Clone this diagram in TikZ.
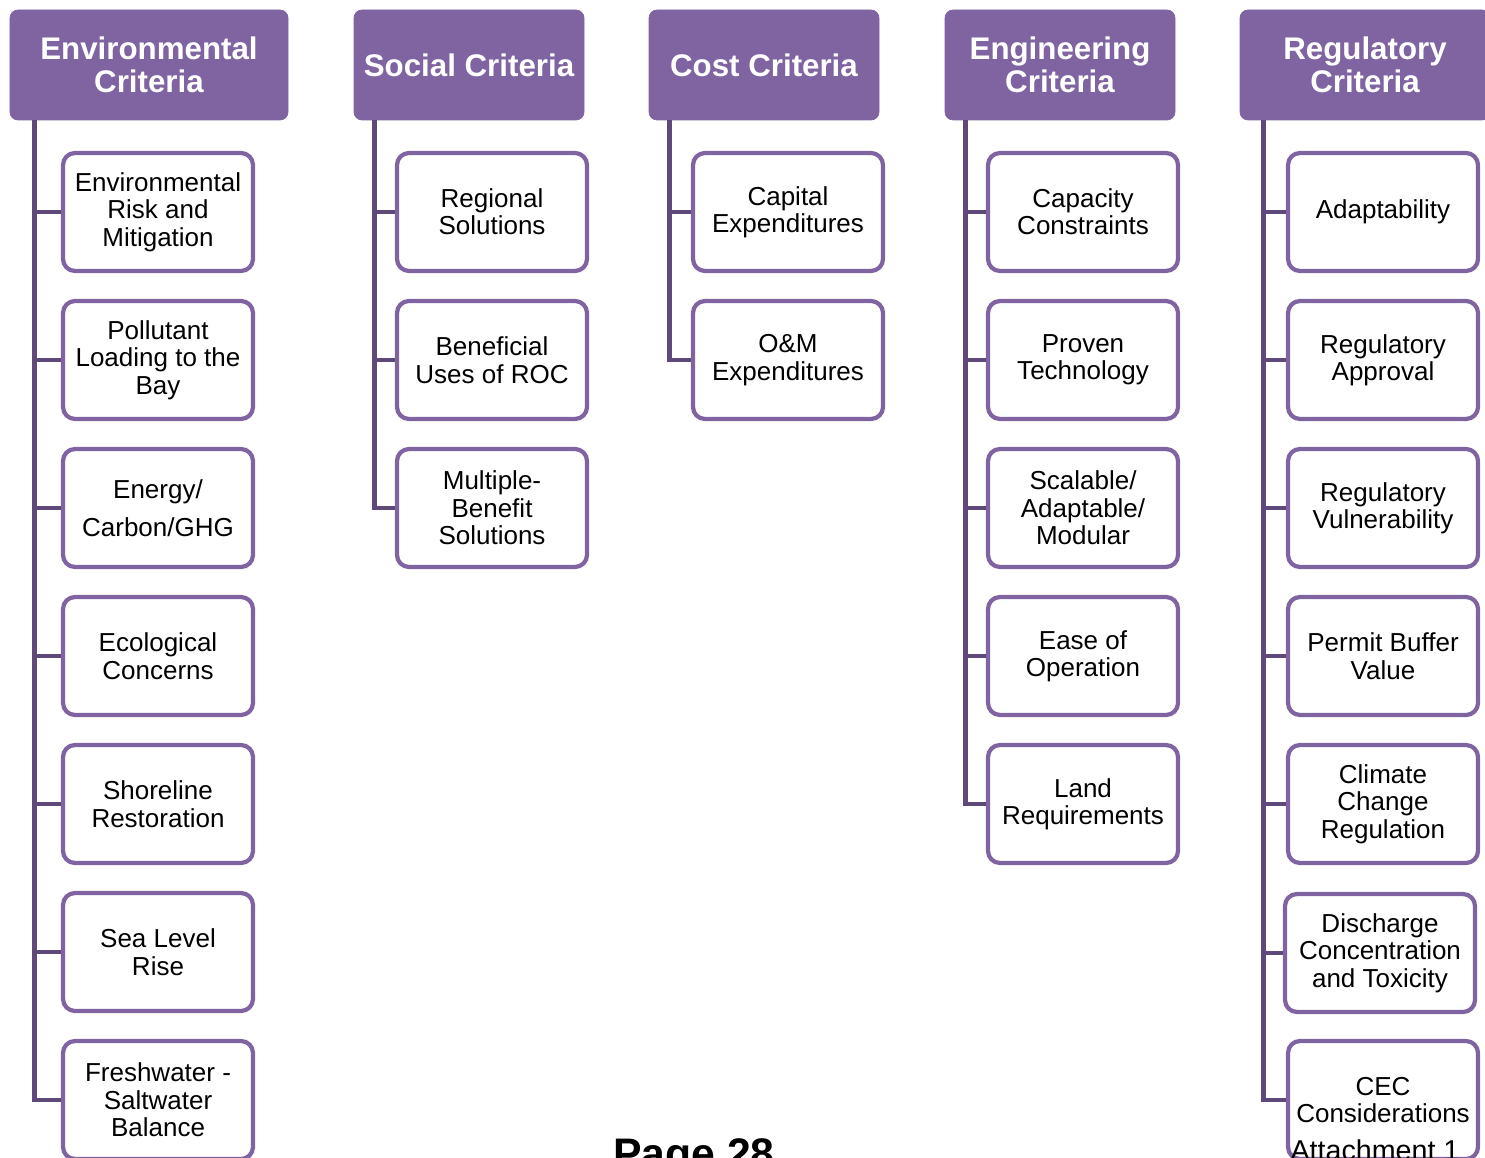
\documentclass[tikz,border=0pt]{standalone}
\usepackage{fontspec}
\setmainfont{Liberation Sans}
\usepackage{tikz}
\usetikzlibrary{positioning}
\definecolor{hdrpurple}{HTML}{8064A2}
\definecolor{trunkpurple}{HTML}{5F497A}
\tikzstyle{header} = [draw=hdrpurple, fill=hdrpurple, rounded corners=0.16cm, minimum height=2.2cm, text=white, align=center, font=\bfseries\fontsize{17.8}{18.8}\selectfont, inner sep=2pt]
\tikzstyle{item} = [draw=hdrpurple, line width=2.4pt, fill=white, rounded corners=0.24cm, minimum width=3.8cm, minimum height=2.36cm, align=center, font=\fontsize{14.8}{15.6}\selectfont, inner sep=2pt]
\tikzstyle{trunk} = [draw=trunkpurple, line width=2.8pt]

\begin{document}
\begin{tikzpicture}
    \clip (0,0) rectangle (29.7,-23.16);

    % headers
    \node [header, minimum width=5.56cm] (envh) at (2.98,-1.30) {Environmental\\Criteria};
    \node [header, minimum width=4.6cm] (soch) at (9.38,-1.30) {Social Criteria};
    \node [header, minimum width=4.6cm] (costh) at (15.28,-1.30) {Cost Criteria};
    \node [header, minimum width=4.6cm] (engh) at (21.2,-1.30) {Engineering\\Criteria};
    \node [header, minimum width=5.0cm] (regh) at (27.3,-1.30) {Regulatory\\Criteria};

    % environmental
    \node [item] (env1) at (3.16,-4.24) {Environmental\\Risk and\\Mitigation};
    \node [item] (env2) at (3.16,-7.20) {Pollutant\\Loading to the\\Bay};
    \node [item] (env3) at (3.16,-10.16) {Energy/\\[0.2cm]Carbon/GHG};
    \node [item] (env4) at (3.16,-13.12) {Ecological\\Concerns};
    \node [item] (env5) at (3.16,-16.08) {Shoreline\\Restoration};
    \node [item] (env6) at (3.16,-19.04) {Sea Level\\Rise};
    \node [item] (env7) at (3.16,-22.00) {Freshwater -\\Saltwater\\Balance};

    % social
    \node [item] (soc1) at (9.84,-4.24) {Regional\\Solutions};
    \node [item] (soc2) at (9.84,-7.20) {Beneficial\\Uses of ROC};
    \node [item] (soc3) at (9.84,-10.16) {Multiple-\\Benefit\\Solutions};

    % cost
    \node [item] (cost1) at (15.76,-4.24) {Capital\\Expenditures};
    \node [item] (cost2) at (15.76,-7.20) {O\&M\\Expenditures};

    % engineering
    \node [item] (eng1) at (21.66,-4.24) {Capacity\\Constraints};
    \node [item] (eng2) at (21.66,-7.20) {Proven\\Technology};
    \node [item] (eng3) at (21.66,-10.16) {Scalable/\\Adaptable/\\Modular};
    \node [item] (eng4) at (21.66,-13.12) {Ease of\\Operation};
    \node [item] (eng5) at (21.66,-16.08) {Land\\Requirements};

    % regulatory
    \node [item] (reg1) at (27.66,-4.24) {Adaptability};
    \node [item] (reg2) at (27.66,-7.20) {Regulatory\\Approval};
    \node [item] (reg3) at (27.66,-10.16) {Regulatory\\Vulnerability};
    \node [item] (reg4) at (27.66,-13.12) {Permit Buffer\\Value};
    \node [item] (reg5) at (27.66,-16.08) {Climate\\Change\\Regulation};
    \node [item] (reg6) at (27.60,-19.06) {Discharge\\Concentration\\and Toxicity};
    \node [item] (reg7) at (27.66,-22.00) {CEC\\Considerations};

    % connectors
    \draw [trunk] ([xshift=0.5cm]envh.south west) |- (env7.west);
    \draw [trunk] ([xshift=0.5cm]envh.south west) |- (env1.west);
    \draw [trunk] ([xshift=0.5cm]envh.south west) |- (env2.west);
    \draw [trunk] ([xshift=0.5cm]envh.south west) |- (env3.west);
    \draw [trunk] ([xshift=0.5cm]envh.south west) |- (env4.west);
    \draw [trunk] ([xshift=0.5cm]envh.south west) |- (env5.west);
    \draw [trunk] ([xshift=0.5cm]envh.south west) |- (env6.west);

    \draw [trunk] ([xshift=0.42cm]soch.south west) |- (soc3.west);
    \draw [trunk] ([xshift=0.42cm]soch.south west) |- (soc1.west);
    \draw [trunk] ([xshift=0.42cm]soch.south west) |- (soc2.west);

    \draw [trunk] ([xshift=0.42cm]costh.south west) |- (cost2.west);
    \draw [trunk] ([xshift=0.42cm]costh.south west) |- (cost1.west);

    \draw [trunk] ([xshift=0.42cm]engh.south west) |- (eng5.west);
    \draw [trunk] ([xshift=0.42cm]engh.south west) |- (eng1.west);
    \draw [trunk] ([xshift=0.42cm]engh.south west) |- (eng2.west);
    \draw [trunk] ([xshift=0.42cm]engh.south west) |- (eng3.west);
    \draw [trunk] ([xshift=0.42cm]engh.south west) |- (eng4.west);

    \draw [trunk] ([xshift=0.48cm]regh.south west) |- (reg7.west);
    \draw [trunk] ([xshift=0.48cm]regh.south west) |- (reg1.west);
    \draw [trunk] ([xshift=0.48cm]regh.south west) |- (reg2.west);
    \draw [trunk] ([xshift=0.48cm]regh.south west) |- (reg3.west);
    \draw [trunk] ([xshift=0.48cm]regh.south west) |- (reg4.west);
    \draw [trunk] ([xshift=0.48cm]regh.south west) |- (reg5.west);
    \draw [trunk] ([xshift=0.48cm]regh.south west) |- (reg6.west);

    % page footer
    \node [anchor=base, font=\bfseries\fontsize{24.3}{26}\selectfont] (page) at (13.88,-23.36) {Page 28};
    \node [anchor=base, font=\fontsize{16.3}{18}\selectfont] (attach) at (27.5,-23.21) {Attachment 1};

\end{tikzpicture}
\end{document}
